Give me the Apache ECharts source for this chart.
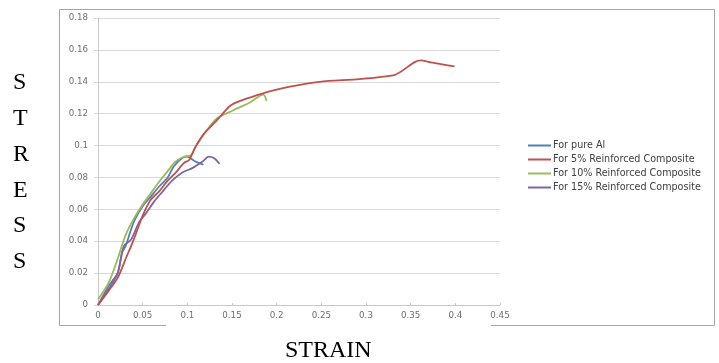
<!DOCTYPE html>
<html>
<head>
<meta charset="utf-8">
<script src="https://cdn.jsdelivr.net/npm/echarts@6/dist/echarts.min.js"></script>
<style>
  html, body { margin: 0; padding: 0; background: #fff; }
  #chart { width: 719px; height: 363px; }
</style>
</head>
<body>
<div id="chart"></div>
<script>
// Stress–strain readings for each material
const seriesNames = [
  'For pure Al',
  'For 5% Reinforced Composite',
  'For 10% Reinforced Composite',
  'For 15% Reinforced Composite'
];

const pureAlStrain = [0, 0.012, 0.022, 0.027, 0.031, 0.040, 0.050, 0.059, 0.068, 0.078, 0.085, 0.094, 0.100, 0.109, 0.118];
const pureAlStress = [0, 0.012, 0.020, 0.033, 0.037, 0.052, 0.062, 0.068, 0.074, 0.080, 0.087, 0.092, 0.093, 0.090, 0.088];

const rc5Strain = [0, 0.012, 0.022, 0.031, 0.040, 0.050, 0.059, 0.068, 0.078, 0.087, 0.096, 0.102, 0.109, 0.118, 0.130, 0.138, 0.148, 0.159, 0.175, 0.189, 0.215, 0.248, 0.293, 0.330, 0.340, 0.355, 0.362, 0.371, 0.399];
const rc5Stress = [0, 0.009, 0.017, 0.029, 0.041, 0.056, 0.066, 0.071, 0.078, 0.083, 0.089, 0.091, 0.099, 0.107, 0.114, 0.119, 0.125, 0.128, 0.131, 0.1335, 0.137, 0.140, 0.1417, 0.144, 0.1467, 0.1525, 0.1534, 0.1523, 0.1496];

const rc10Strain = [0, 0.012, 0.022, 0.031, 0.040, 0.050, 0.059, 0.068, 0.078, 0.087, 0.096, 0.104, 0.110, 0.121, 0.133, 0.151, 0.170, 0.185, 0.1887];
const rc10Stress = [0.0035, 0.014, 0.029, 0.044, 0.054, 0.063, 0.070, 0.077, 0.084, 0.090, 0.093, 0.094, 0.100, 0.109, 0.117, 0.122, 0.127, 0.132, 0.128];

const rc15Strain = [0, 0.012, 0.022, 0.029, 0.037, 0.046, 0.053, 0.063, 0.072, 0.083, 0.094, 0.106, 0.117, 0.124, 0.130, 0.136];
const rc15Stress = [0, 0.010, 0.020, 0.037, 0.041, 0.052, 0.057, 0.065, 0.071, 0.078, 0.083, 0.086, 0.090, 0.093, 0.092, 0.0885];

const colors = ['#4F81BD', '#C0504D', '#9BBB59', '#8064A2'];

const pairs = (xs, ys) => xs.map((x, i) => [x, ys[i]]);
const curves = [
  pairs(pureAlStrain, pureAlStress),
  pairs(rc5Strain, rc5Stress),
  pairs(rc10Strain, rc10Stress),
  pairs(rc15Strain, rc15Stress)
];

const chart = echarts.init(document.getElementById('chart'), null, { renderer: 'canvas' });

const labelFont = { fontFamily: 'DejaVu Sans', fontSize: 8.7, color: '#6e6e6e' };
const borderColor = '#a6a6a6';
const fmt = v => String(+v.toFixed(2));

chart.setOption({
  animation: false,
  color: colors,
  grid: { left: 98, right: 219, top: 18, bottom: 58 },
  xAxis: {
    type: 'value',
    min: 0, max: 0.45, interval: 0.05,
    axisLine: { show: true, lineStyle: { color: '#c8c8c8', width: 1 } },
    axisTick: { show: true, inside: true, length: 2, lineStyle: { color: '#c8c8c8' } },
    splitLine: { show: false },
    axisLabel: Object.assign({ margin: 6, formatter: fmt }, labelFont)
  },
  yAxis: {
    type: 'value',
    min: 0, max: 0.18, interval: 0.02,
    axisLine: { show: true, lineStyle: { color: '#c8c8c8', width: 1 } },
    axisTick: { show: true, length: 4, lineStyle: { color: '#d9d9d9' } },
    splitLine: { show: true, lineStyle: { color: '#d9d9d9', width: 1 } },
    axisLabel: Object.assign({ margin: 10, formatter: fmt }, labelFont)
  },
  legend: {
    orient: 'vertical',
    left: 523, top: 135,
    icon: 'rect',
    itemWidth: 23, itemHeight: 2, itemGap: 3,
    textStyle: { fontFamily: 'DejaVu Sans', fontSize: 9.6, color: '#404040', lineHeight: 11, padding: [0, 0, 0, -3] },
    data: seriesNames
  },
  series: curves.map((d, i) => ({
    name: seriesNames[i],
    type: 'line',
    data: d,
    smooth: 0.3,
    showSymbol: false,
    symbol: 'none',
    lineStyle: { width: 1.8, color: colors[i] },
    z: i === 1 ? 3 : 2
  })),
  graphic: [
    // chart frame
    { type: 'line', shape: { x1: 59.5, y1: 9.5, x2: 714.5, y2: 9.5 }, style: { stroke: borderColor, lineWidth: 1 } },
    { type: 'line', shape: { x1: 59.5, y1: 9.5, x2: 59.5, y2: 325.5 }, style: { stroke: borderColor, lineWidth: 1 } },
    { type: 'line', shape: { x1: 714.5, y1: 9.5, x2: 714.5, y2: 325.5 }, style: { stroke: borderColor, lineWidth: 1 } },
    { type: 'line', shape: { x1: 59.5, y1: 325.5, x2: 166, y2: 325.5 }, style: { stroke: borderColor, lineWidth: 1 } },
    { type: 'line', shape: { x1: 491, y1: 325.5, x2: 714.5, y2: 325.5 }, style: { stroke: borderColor, lineWidth: 1 } },
    // axis titles
    {
      type: 'text', left: 13, top: 65,
      style: {
        text: 'S\nT\nR\nE\nS\nS',
        font: '24px "Liberation Serif"',
        lineHeight: 35.8,
        fill: '#000',
        align: 'center'
      }
    },
    {
      type: 'text', left: 285, top: 339,
      style: { text: 'STRAIN', font: '24px "Liberation Serif"', fill: '#000' }
    }
  ]
});
</script>
</body>
</html>
